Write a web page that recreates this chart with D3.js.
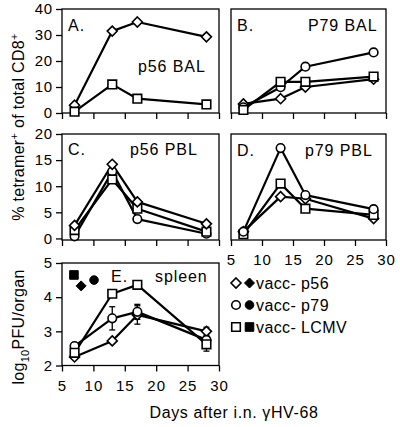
<!DOCTYPE html>
<html><head><meta charset="utf-8">
<script src="https://cdn.jsdelivr.net/npm/d3@7"></script>
<style>
body{margin:0;background:#fff;}
text{font-family:"Liberation Sans",Arial,Helvetica,sans-serif;fill:#000;}
</style></head>
<body>
<svg id="c" width="400" height="427"></svg>
<script>
const days = [7, 13, 17, 28];
const xTicks = [5, 10, 15, 20, 25, 30];

// Panel A: p56 BAL
const A_p56  = [3, 31.5, 35, 29.3];
const A_lcmv = [0.5, 11, 5.5, 3.3];
// Panel B: P79 BAL
const B_p56  = [3.5, 5.5, 10, 13];
const B_p79  = [2.2, 9.9, 17.8, 23.3];
const B_lcmv = [1.2, 12, 12, 14];
// Panel C: p56 PBL
const C_p56  = [2.5, 14.2, 7, 2.8];
const C_p79  = [0.4, 12.8, 3.7, 0.9];
const C_lcmv = [1.6, 11.3, 5.7, 1.3];
// Panel D: p79 PBL
const D_p56  = [1.3, 8.0, 7.6, 3.8];
const D_p79  = [1.3, 17.3, 8.3, 5.6];
const D_lcmv = [0.8, 10.5, 5.7, 4.5];
// Panel E: spleen (log10 PFU/organ)
const E_p56  = [2.25, 2.72, 3.48, 3.0];
const E_p79  = [2.57, 3.38, 3.57, 2.75];
const E_lcmv = [2.37, 4.1, 4.36, 2.62];
const E_p56_err  = [0, 0, 0.27, 0.12];
const E_p79_err  = [0, 0.34, 0.22, 0];
const E_lcmv_err = [0, 0, 0, 0.2];
// filled (control) symbols in panel E
const E_filled = [
  {shape: "square",  day: 6.9,  value: 4.65},
  {shape: "diamond", day: 8.05, value: 4.33},
  {shape: "circle",  day: 10.1, value: 4.50}
];

const yTicksBAL = [0, 10, 20, 30, 40];
const yTicksPBL = [0, 5, 10, 15, 20];
const yTicksE = [2, 3, 4, 5];

const legendItems = [
  {shape: "diamond", label: "vacc- p56"},
  {shape: "circle",  label: "vacc- p79"},
  {shape: "square",  label: "vacc- LCMV"}
];

const svg = d3.select("#c");

function symbolPath(shape) {
  if (shape === "diamond") return "M0,-5L5,0L0,5L-5,0Z";
  if (shape === "square") return "M-4.3,-4.3H4.3V4.3H-4.3Z";
  return d3.symbol().type(d3.symbolCircle).size(58)();
}

function panel(cfg) {
  const x = d3.scaleLinear().domain([5, 30]).range([cfg.x0, cfg.x1]);
  const y = d3.scaleLinear().domain(cfg.yDomain).range([cfg.y1, cfg.y0]);
  const g = svg.append("g");
  g.append("rect").attr("x", cfg.x0).attr("y", cfg.y0)
    .attr("width", cfg.x1 - cfg.x0).attr("height", cfg.y1 - cfg.y0)
    .attr("fill", "none").attr("stroke", "#000").attr("stroke-width", 1.3);
  const xa = g.append("g").attr("transform", `translate(0,${cfg.y1})`)
    .call(d3.axisBottom(x).tickValues(xTicks).tickSize(6).tickSizeOuter(0)
      .tickFormat(cfg.xLabels ? d3.format("d") : ""));
  xa.select(".domain").remove();
  xa.selectAll("line").attr("stroke-width", 1.3);
  xa.selectAll("text").attr("font-size", 15).attr("y", 13).attr("dy", "0.8em")
    .style("letter-spacing", "1px").attr("font-family", "Liberation Sans, Arial, sans-serif");
  if (cfg.yTicks) {
    const ya = g.append("g").attr("transform", `translate(${cfg.x0},0)`)
      .call(d3.axisLeft(y).tickValues(cfg.yTicks).tickSize(6).tickSizeOuter(0).tickFormat(d3.format("d")));
    ya.select(".domain").remove();
    ya.selectAll("line").attr("stroke-width", 1.3);
    ya.selectAll("text").attr("font-size", 15).attr("x", -9)
      .style("letter-spacing", "0.8px").attr("font-family", "Liberation Sans, Arial, sans-serif");
  }
  const line = d3.line().x((d, i) => x(days[i])).y(d => y(d));
  cfg.series.forEach(s => {
    g.append("path").datum(s.values).attr("d", line)
      .attr("fill", "none").attr("stroke", "#000").attr("stroke-width", 2.2)
      .attr("stroke-linejoin", "round");
  });
  cfg.series.forEach(s => {
    if (s.err) {
      s.values.forEach((v, i) => {
        const e = s.err[i];
        if (!e) return;
        const cx = x(days[i]);
        g.append("line").attr("x1", cx).attr("x2", cx).attr("y1", y(v - e)).attr("y2", y(v + e))
          .attr("stroke", "#000").attr("stroke-width", 1.3);
        [v - e, v + e].forEach(b => g.append("line").attr("x1", cx - 3).attr("x2", cx + 3)
          .attr("y1", y(b)).attr("y2", y(b)).attr("stroke", "#000").attr("stroke-width", 1.3));
      });
    }
  });
  cfg.series.forEach(s => {
    g.selectAll(null).data(s.values).join("path")
      .attr("transform", (d, i) => `translate(${x(days[i])},${y(d)})`)
      .attr("d", symbolPath(s.shape))
      .attr("fill", "#fff").attr("stroke", "#000").attr("stroke-width", 1.6);
  });
  if (cfg.filled) {
    g.selectAll(null).data(cfg.filled).join("path")
      .attr("transform", d => `translate(${x(d.day)},${y(d.value)})`)
      .attr("d", d => symbolPath(d.shape)).attr("fill", "#000").attr("stroke", "#000").attr("stroke-width", 1);
  }
  g.append("text").attr("x", cfg.letterPos[0]).attr("y", cfg.letterPos[1])
    .attr("font-size", 16).style("letter-spacing", "1px").text(cfg.letter);
  g.append("text").attr("x", cfg.titlePos[0]).attr("y", cfg.titlePos[1])
    .attr("font-size", 16).style("letter-spacing", "0.9px").text(cfg.title);
  return {x, y};
}

const L = [62, 219], R = [231, 386];
const rowBAL = [9, 113], rowPBL = [134, 240], rowE = [263, 365.5];

panel({x0: L[0], x1: L[1], y0: rowBAL[0], y1: rowBAL[1], yDomain: [0, 40], yTicks: yTicksBAL,
  xLabels: false, letter: "A.", letterPos: [68, 31], title: "p56 BAL", titlePos: [138, 72],
  series: [{shape: "diamond", values: A_p56}, {shape: "square", values: A_lcmv}]});
panel({x0: R[0], x1: R[1], y0: rowBAL[0], y1: rowBAL[1], yDomain: [0, 40], yTicks: null,
  xLabels: false, letter: "B.", letterPos: [237, 31], title: "P79 BAL", titlePos: [308, 31],
  series: [{shape: "diamond", values: B_p56}, {shape: "circle", values: B_p79}, {shape: "square", values: B_lcmv}]});
panel({x0: L[0], x1: L[1], y0: rowPBL[0], y1: rowPBL[1], yDomain: [-0.3, 20], yTicks: yTicksPBL,
  xLabels: false, letter: "C.", letterPos: [68, 155], title: "p56 PBL", titlePos: [130, 155],
  series: [{shape: "circle", values: C_p79}, {shape: "square", values: C_lcmv}, {shape: "diamond", values: C_p56}]});
panel({x0: R[0], x1: R[1], y0: rowPBL[0], y1: rowPBL[1], yDomain: [-0.3, 20], yTicks: null,
  xLabels: true, letter: "D.", letterPos: [237, 156], title: "p79 PBL", titlePos: [305, 156],
  series: [{shape: "diamond", values: D_p56}, {shape: "square", values: D_lcmv}, {shape: "circle", values: D_p79}]});
panel({x0: L[0], x1: L[1], y0: rowE[0], y1: rowE[1], yDomain: [2, 5], yTicks: yTicksE,
  xLabels: true, letter: "E.", letterPos: [111, 282], title: "spleen", titlePos: [155, 282],
  filled: E_filled,
  series: [{shape: "diamond", values: E_p56, err: E_p56_err}, {shape: "circle", values: E_p79, err: E_p79_err},
           {shape: "square", values: E_lcmv, err: E_lcmv_err}]});

// legend
const lg = svg.append("g");
legendItems.forEach((it, i) => {
  const cy = 283 + i * 22;
  lg.append("path").attr("transform", `translate(236,${cy})`).attr("d", symbolPath(it.shape))
    .attr("fill", "#fff").attr("stroke", "#000").attr("stroke-width", 1.6);
  lg.append("path").attr("transform", `translate(249.5,${cy})`).attr("d", symbolPath(it.shape))
    .attr("fill", "#000").attr("stroke", "#000").attr("stroke-width", 1);
  lg.append("text").attr("x", 256).attr("y", cy + 5.5).attr("font-size", 16)
    .style("letter-spacing", "0.4px").text(it.label);
});

// axis titles
const yt = svg.append("text").attr("transform", "translate(24,127) rotate(-90)")
  .attr("text-anchor", "middle").attr("font-size", 16).style("letter-spacing", "0.3px");
yt.append("tspan").text("% tetramer");
yt.append("tspan").attr("dy", -6).attr("font-size", 11).text("+");
yt.append("tspan").attr("dy", 6).text(" of total CD8");
yt.append("tspan").attr("dy", -6).attr("font-size", 11).text("+");

const yt2 = svg.append("text").attr("transform", "translate(24,327) rotate(-90)")
  .attr("text-anchor", "middle").attr("font-size", 16).style("letter-spacing", "0.3px");
yt2.append("tspan").text("log");
yt2.append("tspan").attr("dy", 5).attr("font-size", 11).text("10");
yt2.append("tspan").attr("dy", -5).text("PFU/organ");

svg.append("text").attr("x", 234).attr("y", 418).attr("text-anchor", "middle")
  .attr("font-size", 16).style("letter-spacing", "0.6px").text("Days after i.n. γHV-68");
</script>
</body></html>
